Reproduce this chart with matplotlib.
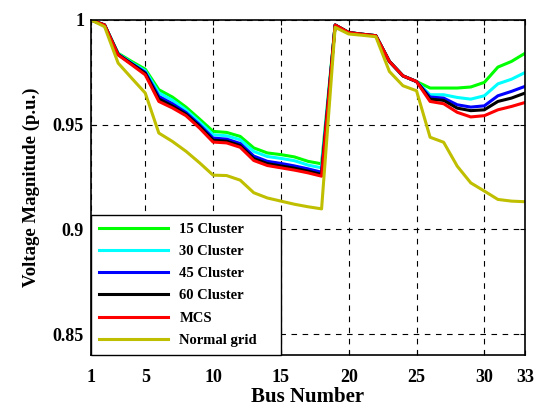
import numpy as np
import matplotlib.pyplot as plt

bus = np.arange(1, 34)

v15 = [1.0, 0.9976, 0.9841, 0.9802, 0.9765, 0.9667, 0.9632, 0.9584, 0.9527, 0.9468,
       0.9463, 0.9444, 0.9389, 0.9365, 0.9357, 0.9346, 0.9325, 0.9313,
       0.9976, 0.9940, 0.9932, 0.9925, 0.9802, 0.9733, 0.9706,
       0.9675, 0.9675, 0.9675, 0.9680, 0.9702, 0.9775, 0.9802, 0.9841]
v30 = [1.0, 0.9976, 0.9838, 0.9795, 0.9757, 0.9652, 0.9617, 0.9570, 0.9513, 0.9452,
       0.9447, 0.9428, 0.9372, 0.9348, 0.9339, 0.9328, 0.9307, 0.9294,
       0.9976, 0.9940, 0.9932, 0.9925, 0.9802, 0.9733, 0.9706,
       0.9643, 0.9643, 0.9630, 0.9622, 0.9638, 0.9695, 0.9717, 0.9749]
v45 = [1.0, 0.9976, 0.9836, 0.9792, 0.9750, 0.9635, 0.9600, 0.9558, 0.9500, 0.9436,
       0.9431, 0.9410, 0.9350, 0.9325, 0.9315, 0.9303, 0.9289, 0.9273,
       0.9976, 0.9940, 0.9932, 0.9925, 0.9802, 0.9733, 0.9706,
       0.9632, 0.9627, 0.9595, 0.9584, 0.9590, 0.9638, 0.9659, 0.9683]
v60 = [1.0, 0.9976, 0.9835, 0.9790, 0.9745, 0.9623, 0.9589, 0.9550, 0.9492, 0.9426,
       0.9421, 0.9400, 0.9338, 0.9314, 0.9303, 0.9292, 0.9278, 0.9262,
       0.9976, 0.9940, 0.9932, 0.9925, 0.9802, 0.9733, 0.9706,
       0.9622, 0.9616, 0.9579, 0.9567, 0.9571, 0.9611, 0.9627, 0.9651]
vmcs = [1.0, 0.9976, 0.9833, 0.9786, 0.9738, 0.9611, 0.9580, 0.9543, 0.9484, 0.9417,
        0.9413, 0.9392, 0.9329, 0.9305, 0.9294, 0.9283, 0.9270, 0.9254,
        0.9976, 0.9940, 0.9932, 0.9925, 0.9802, 0.9733, 0.9706,
        0.9611, 0.9600, 0.9559, 0.9537, 0.9543, 0.9571, 0.9587, 0.9606]
vnorm = [1.0, 0.9968, 0.9794, 0.9722, 0.9651, 0.9460, 0.9420, 0.9373, 0.9318, 0.9259,
         0.9257, 0.9235, 0.9175, 0.9150, 0.9135, 0.9120, 0.9108, 0.9098,
         0.9965, 0.9933, 0.9927, 0.9920, 0.9754, 0.9686, 0.9662,
         0.9440, 0.9416, 0.9302, 0.9222, 0.9183, 0.9143, 0.9135, 0.9132]

labels = ['15 Cluster', '30 Cluster', '45 Cluster', '60 Cluster', 'MCS', 'Normal grid']
colors = ['#00ff00', '#00ffff', '#0000ff', '#000000', '#ff0000', '#bfbf00']
series = [v15, v30, v45, v60, vmcs, vnorm]

plt.rcParams['font.family'] = ['Liberation Serif', 'DejaVu Serif']
plt.rcParams['font.weight'] = 'bold'

fig = plt.figure(figsize=(5.37, 4.12), dpi=100)
ax = fig.add_axes([0.1695, 0.1383, 0.8082, 0.8132])

for s, lab, c in zip(series, labels, colors):
    ax.plot(bus, s, color=c, lw=2.2, label=lab)

ax.set_xlim(1, 33)
ax.set_ylim(0.84, 1.0)
ax.set_xticks([1, 5, 10, 15, 20, 25, 30, 33])
ax.set_yticks([0.85, 0.9, 0.95, 1.0])
ax.set_yticklabels(['0.85', '0.9', '0.95', '1'])
ax.grid(True, color='black', linestyle=(0, (5, 5)), lw=0.8)
ax.tick_params(direction='in', top=True, right=True, labelsize=13)
ax.tick_params(axis='x', pad=10)
ax.tick_params(axis='y', pad=5)
for lb in ax.get_xticklabels() + ax.get_yticklabels():
    lb.set_fontweight('bold')
for sp in ax.spines.values():
    sp.set_linewidth(1.2)

ax.set_xlabel('Bus Number', fontsize=15, fontweight='bold', labelpad=1)
ax.set_ylabel('Voltage Magnitude (p.u.)', fontsize=13.5, fontweight='bold', labelpad=9)

leg = ax.legend(loc='lower left', bbox_to_anchor=(0, 0, 0.438, 0.4), mode='expand',
                borderaxespad=0, fancybox=False, framealpha=1,
                edgecolor='black', handlelength=4.7, prop={'size': 10.5, 'weight': 'bold'},
                labelspacing=0.62, borderpad=0.55, handletextpad=0.8)
leg.get_frame().set_linewidth(1.0)

fig.savefig('out.png', dpi=100)
